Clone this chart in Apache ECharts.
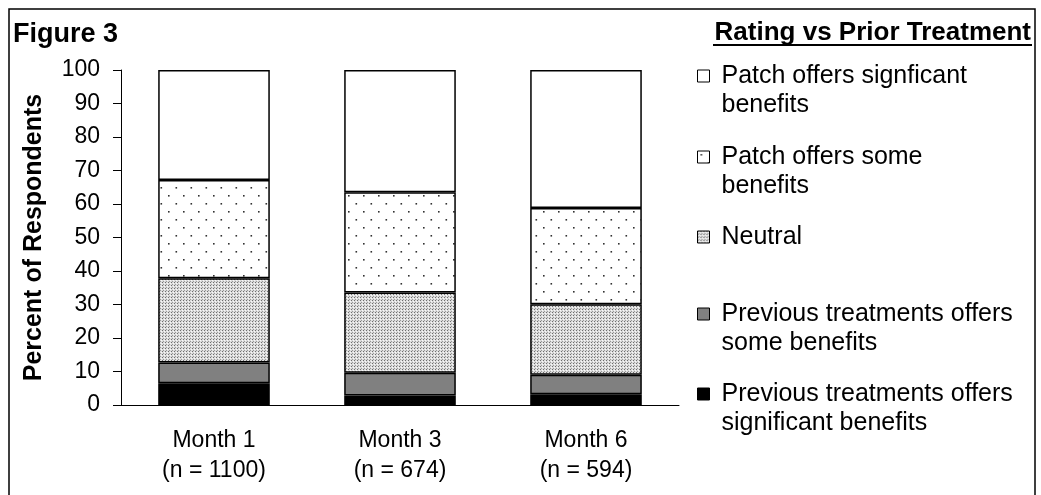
<!DOCTYPE html>
<html>
<head>
<meta charset="utf-8">
<script src="https://cdn.jsdelivr.net/npm/echarts@6/dist/echarts.min.js"></script>
<style>
html,body{margin:0;padding:0;background:#fff;}
#chart{width:1041px;height:495px;}
</style>
</head>
<body>
<div id="chart"></div>
<script>
// ---- data ----
var categories = ['Month 1\n(n = 1100)', 'Month 3\n(n = 674)', 'Month 6\n(n = 594)'];
var prevSignificant = [6.5, 2.8, 3.2];
var prevSome = [6.2, 6.8, 5.8];
var neutral = [25.1, 24.0, 21.1];
var patchSome = [29.4, 29.9, 28.7];
var patchSignificant = [32.8, 36.5, 41.2];
var seriesNames = [
  'Patch offers signficant benefits',
  'Patch offers some benefits',
  'Neutral',
  'Previous treatments offers some benefits',
  'Previous treatments offers significant benefits'
];
var legendLines = [
  ['Patch offers signficant', 'benefits'],
  ['Patch offers some', 'benefits'],
  ['Neutral'],
  ['Previous treatments offers', 'some benefits'],
  ['Previous treatments offers', 'significant benefits']
];
var yTicks = [0, 10, 20, 30, 40, 50, 60, 70, 80, 90, 100];

// ---- patterns ----
function sparseDots() {
  var c = document.createElement('canvas');
  c.width = 15; c.height = 16;
  var g = c.getContext('2d');
  g.fillStyle = '#ffffff'; g.fillRect(0, 0, 15, 16);
  g.fillStyle = '#333333';
  g.fillRect(3, 3, 1.6, 1.6);
  g.fillRect(10.5, 11, 1.6, 1.6);
  return c;
}
function denseDots() {
  var c = document.createElement('canvas');
  c.width = 3; c.height = 3;
  var g = c.getContext('2d');
  g.fillStyle = '#dcdcdc'; g.fillRect(0, 0, 3, 3);
  g.fillStyle = '#6e6e6e';
  g.fillRect(0, 0, 1, 1);
  g.fillStyle = '#9a9a9a';
  g.fillRect(1, 2, 1, 1);
  g.fillStyle = '#f8f8f8';
  g.fillRect(2, 1, 1, 1);
  return c;
}
var font = "'Liberation Sans', Arial, sans-serif";
var colors = [
  '#ffffff',
  { image: sparseDots(), repeat: 'repeat' },
  { image: denseDots(), repeat: 'repeat' },
  '#808080',
  '#000000'
];
var values = [patchSignificant, patchSome, neutral, prevSome, prevSignificant];

var chart = echarts.init(document.getElementById('chart'));

var series = [];
[4, 3, 2, 1, 0].forEach(function (i) {
  series.push({
    name: seriesNames[i],
    type: 'bar',
    stack: 'total',
    barWidth: '60%',
    data: values[i],
    itemStyle: { color: colors[i], borderColor: '#000', borderWidth: 1.5 },
    emphasis: { disabled: true }
  });
});

var lineH = 29;
var firstLineCenters = [76, 157, 237, 314, 394];
var legends = seriesNames.map(function (n, i) {
  var lines = legendLines[i];
  // a blank line above multi-line labels keeps the key aligned with the first line
  var parts = lines.length > 1 ? ['{t| }'] : [];
  lines.forEach(function (l) { parts.push('{t|' + l + '}'); });
  var nLines = parts.length;
  return {
    orient: 'vertical',
    left: 697,
    top: firstLineCenters[i] - nLines * lineH / 2,
    padding: 0,
    icon: 'rect',
    itemWidth: 12,
    itemHeight: 12,
    itemGap: 0,
    selectedMode: false,
    data: [n],
    formatter: function () { return parts.join('\n'); },
    textStyle: {
      fontFamily: font, fontSize: 25, color: '#000', lineHeight: lineH,
      rich: { t: { fontFamily: font, fontSize: 25, color: '#000', lineHeight: lineH, padding: [0, 0, 0, 7] } }
    },
    itemStyle: { borderColor: '#000', borderWidth: 1 }
  };
});

chart.setOption({
  animation: false,
  backgroundColor: '#ffffff',
  title: [
    { text: 'Figure 3', left: 8, top: 16, textStyle: { fontFamily: font, fontSize: 27, fontWeight: 'bold', color: '#000' } },
    { text: 'Rating vs Prior Treatment', right: 5, top: 15, textStyle: { fontFamily: font, fontSize: 26, fontWeight: 'bold', color: '#000' } }
  ],
  legend: legends,
  grid: { left: 121, top: 70, right: 362, bottom: 90, containLabel: false },
  xAxis: {
    type: 'category',
    data: categories,
    axisLine: { lineStyle: { color: '#000', width: 1 } },
    axisTick: { show: false },
    axisLabel: { fontFamily: font, fontSize: 23, color: '#000', lineHeight: 30, margin: 21 }
  },
  yAxis: {
    type: 'value',
    min: 0, max: 100, interval: 10,
    name: 'Percent of Respondents',
    nameLocation: 'middle',
    nameGap: 74,
    nameTextStyle: { fontFamily: font, fontSize: 25, fontWeight: 'bold', color: '#000' },
    axisLine: { show: true, lineStyle: { color: '#000', width: 1 } },
    axisTick: { show: true, length: 8, lineStyle: { color: '#000' } },
    axisLabel: { fontFamily: font, fontSize: 23, color: '#000', margin: 21,
      formatter: function (v) { return yTicks.indexOf(v) >= 0 ? String(v) : ''; } },
    splitLine: { show: false }
  },
  graphic: [
    { type: 'rect', shape: { x: 9, y: 9, width: 1026, height: 500 }, style: { fill: 'none', stroke: '#000', lineWidth: 1.5 }, silent: true },
    { type: 'line', shape: { x1: 713, y1: 45, x2: 1032, y2: 45 }, style: { stroke: '#000', lineWidth: 2 }, silent: true }
  ],
  series: series
});
</script>
</body>
</html>
